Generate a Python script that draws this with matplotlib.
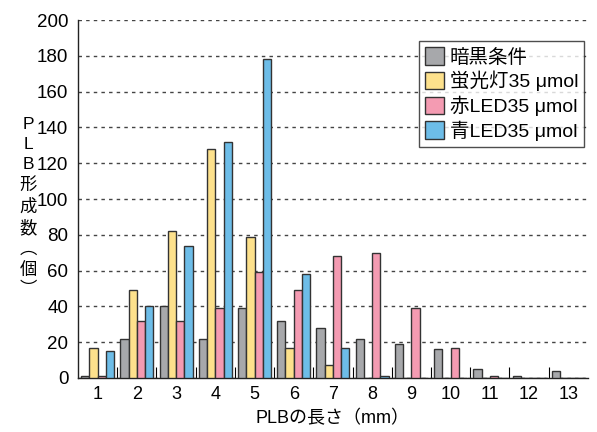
import numpy as np
import matplotlib.pyplot as plt

plt.rcParams['font.family'] = ['Liberation Sans', 'Noto Sans CJK JP', 'DejaVu Sans']

lengths = np.arange(1, 14)  # mm
series_names = ['暗黒条件', '蛍光灯35 \u03bcmol', '赤LED35 \u03bcmol', '青LED35 \u03bcmol']
dark = [1, 22, 40, 22, 39, 32, 28, 22, 19, 16, 5, 1, 4]
fluor = [17, 49, 82, 128, 79, 17, 7, 0, 0, 0, 0, 0, 0]
red_led = [1, 32, 32, 39, 59, 49, 68, 70, 39, 17, 1, 0, 0]
blue_led = [15, 40, 74, 132, 178, 58, 17, 1, 0, 0, 0, 0, 0]
colors = ['#a7a8ab', '#fde18c', '#f49bb2', '#6dbde8']

fig = plt.figure(figsize=(5.97, 4.32), dpi=100)
ax = fig.add_axes([0.1307, 0.125, 0.854, 0.8287])

w = 0.21
for k, (vals, c, name) in enumerate(zip([dark, fluor, red_led, blue_led], colors, series_names)):
    ax.bar(lengths + (k - 1.5) * w, vals, width=w, color=c, edgecolor='#333333',
           linewidth=1.0, label=name, zorder=3)

ax.set_xlim(0.5, 13.5)
ax.set_ylim(0, 200)
ax.set_yticks(range(0, 201, 20))
ax.set_xticks(lengths)
ax.set_xticks(np.arange(1.5, 13, 1), minor=True)
ax.tick_params(axis='x', which='major', length=0, labelsize=13, pad=6)
ax.tick_params(axis='x', which='minor', direction='in', length=8, width=0.8)
ax.tick_params(axis='y', direction='in', length=0, labelsize=13.5, pad=7)
ax.yaxis.grid(True, linestyle=(0, (2.5, 3)), color='#444444', linewidth=1.0, zorder=0)
for s in ['top', 'right']:
    ax.spines[s].set_visible(False)
for s in ['left', 'bottom']:
    ax.spines[s].set_color('#222222')
    ax.spines[s].set_linewidth(1.0)

leg = ax.legend(loc='upper right', bbox_to_anchor=(0.993, 0.94), fontsize=14,
                frameon=True, fancybox=False, edgecolor='#222222',
                handlelength=1.0, handleheight=1.0, handletextpad=0.3,
                labelspacing=0.22, borderpad=0.3, borderaxespad=0)
leg.get_frame().set_linewidth(1.0)
leg.set_zorder(5)

ax.set_xlabel('PLBの長さ（mm）', fontsize=13, labelpad=5)
fig.text(0.047, 0.52, 'P\nL\nB\n形\n成\n数\n︵\n個\n︶', fontsize=12.5,
         ha='center', va='center', linespacing=1.4)

fig.savefig('out.png', dpi=100)
